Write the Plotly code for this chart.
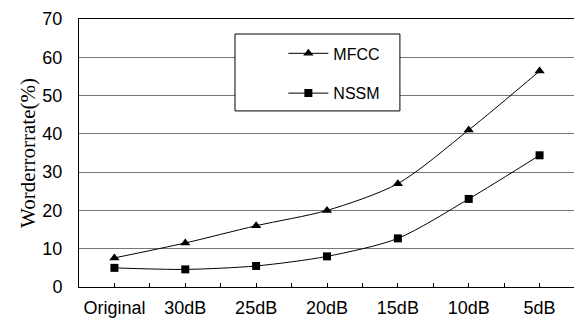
import plotly.graph_objects as go

categories = ["Original", "30dB", "25dB", "20dB", "15dB", "10dB", "5dB"]
mfcc = [7.6, 11.5, 16.0, 20.0, 27.0, 41.0, 56.4]
nssm = [5.0, 4.6, 5.5, 8.0, 12.7, 23.0, 34.4]
y_ticks = [0, 10, 20, 30, 40, 50, 60, 70]

xs = list(range(len(categories)))

fig = go.Figure()
fig.add_trace(go.Scatter(
    x=xs, y=mfcc, name="MFCC", mode="lines+markers",
    line=dict(color="black", width=1, shape="spline", smoothing=0.8),
    marker=dict(symbol="triangle-up", size=9, color="black"),
    legendgroup="a",
))
fig.add_trace(go.Scatter(
    x=xs, y=nssm, name="NSSM", mode="lines+markers",
    line=dict(color="black", width=1, shape="spline", smoothing=0.8),
    marker=dict(symbol="square", size=8, color="black"),
    legendgroup="b",
))

fig.add_shape(type="rect", xref="paper", yref="paper",
              x0=0.3145, x1=0.647, y0=0.657, y1=0.944,
              line=dict(color="black", width=1), fillcolor="white", layer="above")

# page body has an 8px default margin, so the figure is offset by 8px
fig.update_layout(
    width=574, height=312,
    margin=dict(l=71, r=7, t=11, b=33, autoexpand=False),
    paper_bgcolor="white", plot_bgcolor="white",
    font=dict(family="Liberation Sans, Arial", size=18, color="black"),
    showlegend=True,
    legend=dict(x=0.412, y=0.935, xanchor="left", yanchor="top",
                bgcolor="rgba(0,0,0,0)", borderwidth=0,
                font=dict(size=16), tracegroupgap=16, itemwidth=40,
                traceorder="grouped"),
    xaxis=dict(
        range=[-0.5, 6.5], tickmode="array", tickvals=xs, ticktext=categories,
        ticks="inside", ticklen=4, tickcolor="black", tickwidth=1,
        minor=dict(tickmode="linear", tick0=-0.5, dtick=1, ticks="inside",
                   ticklen=4, tickcolor="black", tickwidth=1, showgrid=False),
        showgrid=False, showline=True, linecolor="black", linewidth=1,
        mirror=True, zeroline=False, ticklabelstandoff=4, automargin=False,
    ),
    yaxis=dict(
        range=[0, 70], tickmode="array", tickvals=y_ticks,
        showgrid=True, gridcolor="#777777", gridwidth=1,
        showline=True, linecolor="black", linewidth=1, mirror=True,
        zeroline=False, ticks="", ticklabelstandoff=12, automargin=False,
        title=dict(text="Worderrorrate(%)",
                   font=dict(family="Liberation Serif, Times New Roman", size=21),
                   standoff=1),
    ),
)

fig.write_html("out.html")
